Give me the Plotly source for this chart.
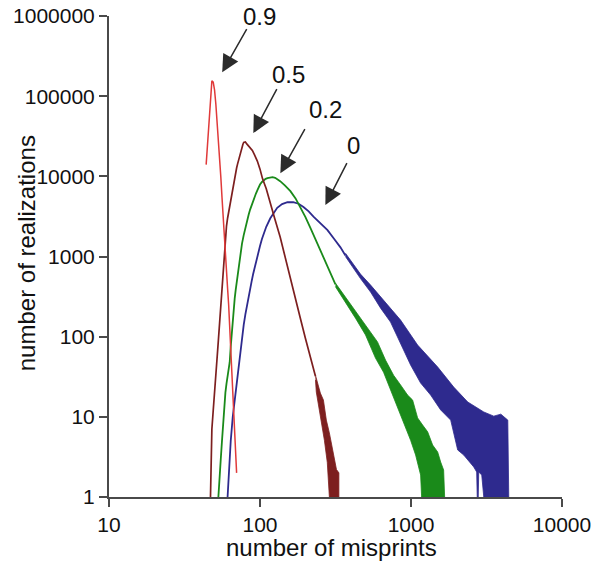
import math
import plotly.graph_objects as go

# ---- data (number of misprints vs number of realizations) ----
red_x = [44, 45, 46, 47, 48, 49, 50, 51, 52, 53, 54, 55, 56, 57, 58, 59, 60, 61, 62, 63, 64, 65, 66, 67, 68, 69, 70]
red_y = [14000, 25000, 45000, 90000, 155000, 150000, 120000, 80000, 50000, 30000, 18000, 10000, 5500, 3000,
         1600, 900, 600, 400, 250, 130, 70, 35, 20, 10, 6, 3, 2]

maroon_x = [47, 48, 49, 50, 51, 52, 53, 54, 55, 56, 57, 58, 59, 60, 61, 62, 63, 64, 65, 66, 67, 68, 69, 70,
            71, 72, 73, 74, 75, 76, 77, 78, 79, 80, 82, 85, 89, 92, 96, 100, 104, 110, 117, 125, 136, 147,
            159, 170, 185, 200, 216, 233]
maroon_y = [1, 7, 12, 22, 35, 55, 90, 150, 260, 450, 750, 1200, 1700, 2400, 3000, 3600, 4200, 5000, 6000,
            7200, 8500, 9800, 11200, 12700, 14200, 15800, 17500, 19300, 21200, 23200, 25000, 26500, 27000,
            26800, 25200, 23500, 21000, 18500, 15500, 12300, 9300, 7000, 4800, 3000, 1750, 950, 540, 310,
            170, 95, 54, 32]
maroon_tail_up_x = [233, 251, 263, 275, 288, 306, 321, 333, 333]
maroon_tail_up_y = [33, 19.8, 16.2, 9.1, 6.3, 3.3, 2.2, 2.0, 1]
maroon_tail_lo_x = [288, 279, 267, 251, 236, 233]
maroon_tail_lo_y = [1, 2.7, 5.1, 10.5, 20.4, 28.8]

green_x = [53, 54, 55, 56, 57, 58, 59, 60, 61, 62, 63, 64, 65, 66, 67, 68, 69, 70, 71, 72, 73, 74, 76, 78,
           80, 82, 84, 86, 88, 90, 92, 94, 96, 98, 100, 103, 106, 109, 112, 116, 121, 126, 131, 136, 146,
           159, 172, 185, 200, 216, 233, 251, 272, 293, 316]
green_y = [1, 2, 3, 5, 9, 14, 20, 26, 33, 40, 48, 75, 115, 170, 230, 300, 380, 470, 560, 700, 880, 1080,
           1450, 1850, 2300, 2800, 3300, 3850, 4400, 5000, 5550, 6100, 6700, 7300, 7900, 8500, 8950, 9300,
           9500, 9700, 9770, 9600, 9200, 8700, 7700, 6540, 5300, 4130, 3100, 2260, 1650, 1200, 870, 639, 450]
green_tail_up_x = [316, 368, 429, 500, 600, 678, 767, 853, 949, 1025, 1106, 1194, 1289, 1391, 1502, 1572, 1645, 1670]
green_tail_up_y = [466, 312, 203, 140, 86, 51, 33, 25, 18.7, 16.2, 9.7, 7.9, 6.5, 4.45, 3.64, 2.73, 2.17, 1]
green_tail_lo_x = [1176, 1158, 1073, 994, 921, 827, 732, 658, 582, 500, 429, 368, 316]
green_tail_lo_y = [1, 1.88, 3.34, 5.1, 7.25, 12.2, 21.6, 36, 54, 105, 170, 270, 420]

blue_x = [61, 62, 64, 66, 68, 70, 72, 74, 76, 78, 80, 82, 84, 86, 88, 90, 92, 94, 96, 98, 100, 103, 106,
          110, 117, 123, 130, 140, 152, 166, 180, 194, 210, 226, 250, 280, 310, 341, 368]
blue_y = [1, 2, 5, 10, 16, 26, 47, 72, 102, 140, 190, 250, 320, 400, 490, 600, 720, 850, 1000, 1170, 1350,
          1650, 1950, 2350, 3000, 3500, 4050, 4500, 4750, 4770, 4550, 4150, 3650, 3150, 2600, 2130, 1650,
          1300, 1030]
blue_tail_up_x = [368, 463, 540, 658, 853, 1106, 1502, 1918, 2376, 3034, 3532, 3935, 4375, 4440]
blue_tail_up_y = [1100, 603, 440, 286, 161, 78.6, 41.8, 23.5, 15.3, 11.5, 10.2, 10.8, 9.1, 1]
blue_tail_lo_x = [3034, 2941, 2809, 2788, 2745, 2723, 2603, 2234, 2038, 1832, 1572, 1349, 1158, 994, 853,
                  732, 629, 540, 463, 368]
blue_tail_lo_y = [1, 1.88, 2.05, 1, 1, 2.05, 2.37, 3.34, 3.86, 9.1, 12.2, 18.7, 26.4, 44.3, 83.2, 152,
                  227, 360, 530, 1000]

x_ticks = [10, 100, 1000, 10000]
x_tick_labels = ["10", "100", "1000", "10000"]
y_ticks = [1, 10, 100, 1000, 10000, 100000, 1000000]
y_tick_labels = ["1", "10", "100", "1000", "10000", "100000", "1000000"]

labels = ["0.9", "0.5", "0.2", "0"]
arrow_tip_x = [56.2, 90.3, 136.4, 271]
arrow_tip_y = [199000, 34600, 10960, 4375]

RED, MAROON, GREEN, BLUE = "#e03a3a", "#7d1f1f", "#1a8a1a", "#2e2a8e"
FONT = "Liberation Sans, Arial, Helvetica, sans-serif"

fig = go.Figure()


def band(ux, uy, lx, ly, color):
    fig.add_trace(go.Scatter(x=ux + lx, y=uy + ly, mode="lines", fill="toself",
                             fillcolor=color, line=dict(color=color, width=0.8),
                             hoverinfo="skip"))


band(maroon_tail_up_x, maroon_tail_up_y, maroon_tail_lo_x, maroon_tail_lo_y, MAROON)
band(green_tail_up_x, green_tail_up_y, green_tail_lo_x, green_tail_lo_y, GREEN)
band(blue_tail_up_x, blue_tail_up_y, blue_tail_lo_x, blue_tail_lo_y, BLUE)

fig.add_trace(go.Scatter(x=blue_x, y=blue_y, mode="lines", line=dict(color=BLUE, width=1.8)))
fig.add_trace(go.Scatter(x=green_x, y=green_y, mode="lines", line=dict(color=GREEN, width=1.8)))
fig.add_trace(go.Scatter(x=maroon_x, y=maroon_y, mode="lines", line=dict(color=MAROON, width=1.7)))
fig.add_trace(go.Scatter(x=red_x, y=red_y, mode="lines", line=dict(color=RED, width=1.5)))

# arrows (tail offsets in pixels; annotation positions on log axes are given in log10 units)
arrow_offsets = [(25, -44), (24, -45), (25, -45), (22, -43)]
label_pos = [(0.333, 1.0), (0.396, 0.879), (0.477, 0.805), (0.540, 0.730)]
for lab, tx, ty, (ax, ay), (px, py) in zip(labels, arrow_tip_x, arrow_tip_y, arrow_offsets, label_pos):
    fig.add_annotation(x=math.log10(tx), y=math.log10(ty), xref="x", yref="y", text=" ",
                       showarrow=True, ax=ax, ay=ay, axref="pixel", ayref="pixel", borderpad=0,
                       font=dict(size=1),
                       arrowhead=2, arrowsize=2.3, arrowwidth=1.5, arrowcolor="#2b2b2b")
    fig.add_annotation(x=px, y=py, xref="paper", yref="paper", text=lab, showarrow=False,
                       xanchor="center", yanchor="middle",
                       font=dict(family=FONT, size=24, color="#111"))

fig.add_annotation(x=-0.183, y=0.507, xref="paper", yref="paper", text="number of realizations",
                   showarrow=False, textangle=-90, xanchor="center", yanchor="middle",
                   font=dict(family=FONT, size=24, color="#111"))
fig.add_annotation(x=0.492, y=-0.106, xref="paper", yref="paper", text="number of misprints",
                   showarrow=False, xanchor="center", yanchor="middle",
                   font=dict(family=FONT, size=24, color="#111"))

axis_common = dict(showgrid=False, zeroline=False, showline=True, linecolor="#4a4a4a", linewidth=2,
                   ticks="outside", ticklen=8, tickwidth=2, tickcolor="#4a4a4a", automargin=False,
                   tickfont=dict(family=FONT, size=21, color="#111"), mirror=False)
fig.update_xaxes(type="log", range=[1, 4], tickvals=x_ticks, ticktext=x_tick_labels, **axis_common)
fig.update_yaxes(type="log", range=[0, 6], tickvals=y_ticks, ticktext=y_tick_labels, **axis_common)

fig.update_layout(width=596, height=561, margin=dict(l=109, r=34, t=16, b=64),
                  paper_bgcolor="white", plot_bgcolor="white", showlegend=False)

fig.write_html("out.html")
